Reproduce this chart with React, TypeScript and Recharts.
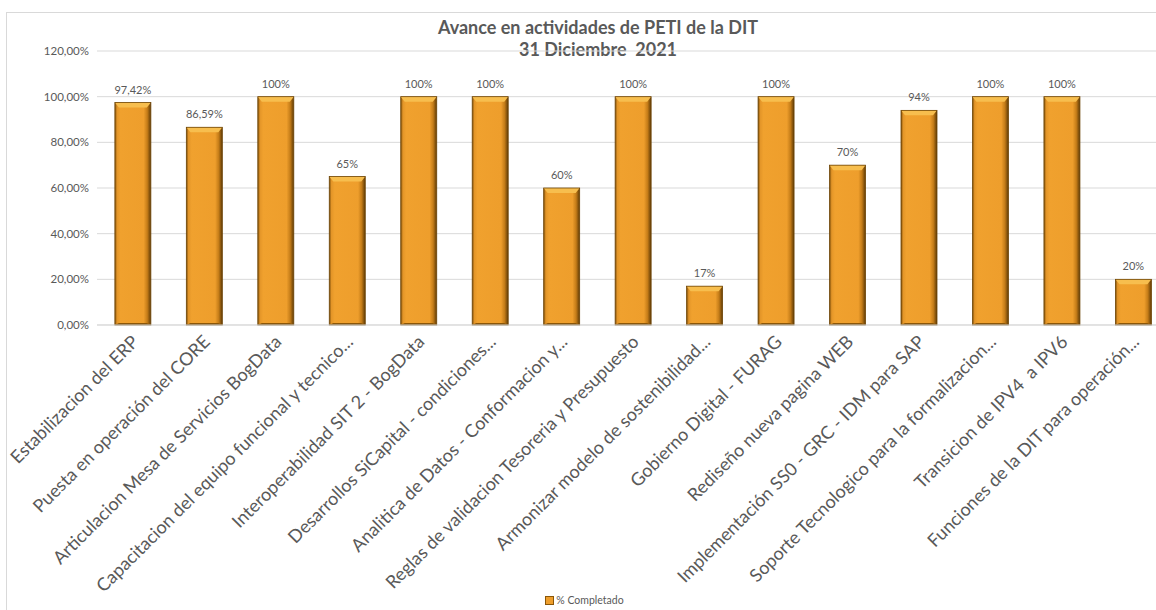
import React from "react";
import { BarChart, Bar, XAxis, YAxis, CartesianGrid, Legend, LabelList } from "recharts";

// Activities of the PETI plan and their completion (%) at 31 December 2021
const activities = [
  "Estabilizacion del ERP",
  "Puesta en operación del CORE",
  "Articulacion Mesa de Servicios BogData",
  "Capacitacion del equipo funcional y tecnico...",
  "Interoperabilidad SIT 2 - BogData",
  "Desarrollos SiCapital - condiciones...",
  "Analitica de Datos - Conformacion y...",
  "Reglas de validacion Tesoreria y Presupuesto",
  "Armonizar modelo de sostenibilidad...",
  "Gobierno Digital - FURAG",
  "Rediseño nueva pagina WEB",
  "Implementación SS0 - GRC - IDM para SAP",
  "Soporte Tecnologico para la formalizacion...",
  "Transicion de IPV4  a IPV6",
  "Funciones de la DIT para operación...",
];
const completed = [97.42, 86.59, 100, 65, 100, 100, 60, 100, 17, 100, 70, 94, 100, 100, 20];
const yTicks = [0, 20, 40, 60, 80, 100, 120];

const data = activities.map((name, i) => ({ name, value: completed[i] }));

const FONT = "Lato, 'Open Sans', sans-serif";
const TEXT = "#595959";

const fmtAxis = (v: number) => v.toFixed(2).replace(".", ",") + "%";
const fmtLabel = (v: number) =>
  Number.isInteger(v) ? `${v}%` : v.toFixed(2).replace(".", ",") + "%";

// Bevelled orange column
const BevelBar = (props: any) => {
  const { x, y, width, height } = props;
  if (height <= 0) return null;
  const b = 4;
  return (
    <g>
      <rect x={x} y={y} width={width} height={height} fill="url(#barBody)" />
      <polygon
        points={`${x},${y} ${x + width},${y} ${x + width - b},${y + b + 1} ${x + b},${y + b + 1}`}
        fill="#F7BE4E"
      />
      <polygon
        points={`${x},${y + height} ${x + width},${y + height} ${x + width - b},${y + height - 2} ${x + b},${y + height - 2}`}
        fill="#8A5608"
      />
      <rect x={x} y={y} width={width} height={height} fill="none" stroke="#6E4506" strokeWidth={0.8} />
    </g>
  );
};

const AngledTick = (props: any) => {
  const { x, y, payload } = props;
  return (
    <g transform={`translate(${x + 7},${y + 10})`}>
      <text
        textAnchor="end"
        transform="rotate(-45)"
        fontFamily={FONT}
        fontSize={18}
        fill={TEXT}
        style={{ whiteSpace: "pre" }}
      >
        {payload.value}
      </text>
    </g>
  );
};

const LegendBox = () => (
  <div
    style={{
      height: 20,
      display: "flex",
      justifyContent: "center",
      alignItems: "center",
      fontFamily: FONT,
      fontSize: 10.5,
      color: TEXT,
    }}
  >
    <span
      style={{
        display: "inline-block",
        width: 7,
        height: 7,
        background: "#EE9E2C",
        border: "1px solid #8A5608",
        marginRight: 2,
      }}
    />
    % Completado
  </div>
);

export default function App() {
  return (
    <div
      style={{
        position: "absolute",
        left: 0,
        top: 0,
        width: 1156,
        height: 610,
        overflow: "hidden",
        background: "#fff",
      }}
    >
      <div
        style={{
          position: "absolute",
          left: 6,
          top: 12,
          width: 1300,
          height: 700,
          border: "1px solid #d9d9d9",
        }}
      />
      <div
        style={{
          position: "absolute",
          left: 0,
          top: 16,
          width: 1196,
          textAlign: "center",
          fontFamily: FONT,
          fontWeight: 700,
          fontSize: 18,
          lineHeight: "22px",
          color: TEXT,
        }}
      >
        Avance en actividades de PETI de la DIT
        <br />
        31 Diciembre&nbsp; 2021
      </div>
      <div style={{ position: "absolute", left: 0, top: 0 }}>
        <BarChart
          width={1180}
          height={610}
          data={data}
          margin={{ top: 51, right: 11, left: 0, bottom: 0 }}
          barCategoryGap="25%"
        >
          <defs>
            <linearGradient id="barBody" x1="0" y1="0" x2="1" y2="0">
              <stop offset="0" stopColor="#7A4C08" />
              <stop offset="0.06" stopColor="#E39528" />
              <stop offset="0.15" stopColor="#F0A12E" />
              <stop offset="0.8" stopColor="#EE9E2C" />
              <stop offset="0.9" stopColor="#C47C18" />
              <stop offset="1" stopColor="#5E3A05" />
            </linearGradient>
          </defs>
          <CartesianGrid vertical={false} stroke="#d9d9d9" />
          <XAxis
            dataKey="name"
            interval={0}
            height={265}
            tick={<AngledTick />}
            tickLine={false}
            axisLine={{ stroke: "#d9d9d9" }}
          />
          <YAxis
            width={97}
            domain={[0, 120]}
            ticks={yTicks}
            tickFormatter={fmtAxis}
            axisLine={false}
            tickLine={false}
            tick={{ fontFamily: FONT, fontSize: 11.5, fill: TEXT }}
          />
          <Legend verticalAlign="bottom" height={20} content={<LegendBox />} />
          <Bar dataKey="value" name="% Completado" shape={<BevelBar />} isAnimationActive={false}>
            <LabelList
              dataKey="value"
              position="top"
              offset={9}
              formatter={(v: any) => fmtLabel(Number(v))}
              style={{ fontFamily: FONT, fontSize: 11, fill: TEXT }}
            />
          </Bar>
        </BarChart>
      </div>
    </div>
  );
}
